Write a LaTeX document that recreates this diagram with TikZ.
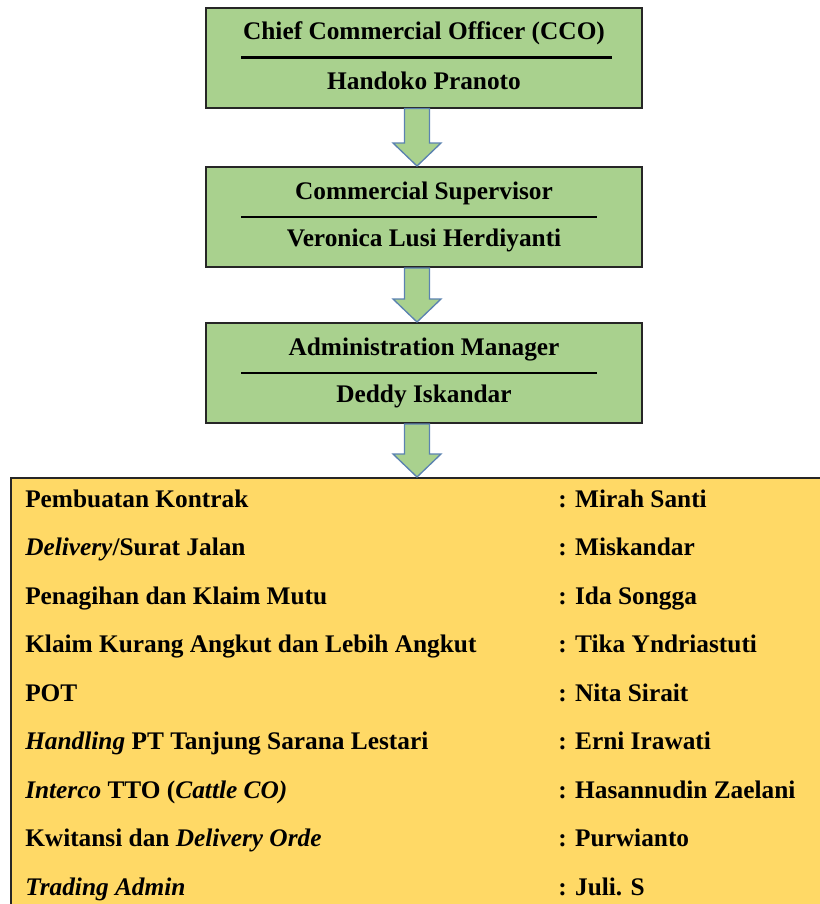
\documentclass[tikz,border=0pt]{standalone}
\usepackage{fontspec}
\setmainfont{Liberation Serif}
\usetikzlibrary{calc}

\definecolor{hijau}{HTML}{A9D18E}
\definecolor{kuning}{HTML}{FFD966}
\definecolor{garispanah}{HTML}{5B82B0}

\tikzset{
	kotak/.style={draw=black!85, line width=1.5pt, fill=hijau, minimum width=327pt, minimum height=75pt, inner sep=0pt},
	teks/.style={font=\bfseries\fontsize{19}{22}\selectfont, inner sep=0pt},
	panah/.style={draw=garispanah, line width=1pt, fill=hijau, line join=miter},
}

\begin{document}
\begin{tikzpicture}[x=0.75pt, y=-0.75pt]
		\useasboundingbox (0,0) rectangle (820,904);
		\clip (0,0) rectangle (820,904);
		% kotak jabatan
		\foreach[count=\i] \kode/\jabatan/\nama/\y/\garis in {cco/{Chief Commercial Officer (CCO)}/{Handoko Pranoto}/57.5/612,sup/{Commercial Supervisor}/{Veronica Lusi Herdiyanti}/217/597,adm/{Administration Manager}/{Deddy Iskandar}/373/597} {
			\node[kotak] (\kode) at (424,\y) {};
			\node[teks] (\kode-j) at ($(\kode.center)+(0,-24)$) {\jabatan};
			\node[teks] (\kode-n) at ($(\kode.center)+(0,23)$) {\nama};
			\draw[line width=2pt] (241,\y) -- (\garis,\y);
		}
		% kotak tugas
		\node[draw=black!85, line width=1.5pt, fill=kuning, anchor=north west, minimum width=622pt, minimum height=330pt] (tugas) at (10,477) {};
		\foreach[count=\i] \tugas/\orang in {{Pembuatan Kontrak}/{Mirah Santi},{\textit{Delivery}/Surat Jalan}/{Miskandar},{Penagihan dan Klaim Mutu}/{Ida Songga},{Klaim Kurang Angkut dan Lebih Angkut}/{Tika Yndriastuti},{POT}/{Nita Sirait},{\textit{Handling} PT Tanjung Sarana Lestari}/{Erni Irawati},{\textit{Interco} TTO (\textit{Cattle CO)}}/{Hasannudin Zaelani},{Kwitansi dan \textit{Delivery Orde}}/{Purwianto},{\textit{Trading Admin}}/{Juli. S}} {
			\node[teks, anchor=base west] (t-\i) at (25,{507+48.5*(\i-1)}) {\tugas};
			\node[teks, anchor=base west] (o-\i) at (558,{507+48.5*(\i-1)}) {: \orang};
		}
		\coordinate (atas) at (417,477);
		% panah
		\foreach \a/\b in {cco.south/sup.north,sup.south/adm.north,adm.south/atas} {
			\draw[panah] ($(\a -| atas)+(-12.5,0)$) -- ($(\b -| atas)+(-12.5,-23)$) -- ($(\b -| atas)+(-24,-23)$) -- (\b -| atas) -- ($(\b -| atas)+(24,-23)$) -- ($(\b -| atas)+(12.5,-23)$) -- ($(\a -| atas)+(12.5,0)$) -- cycle;
		}
	\end{tikzpicture}
\end{document}
